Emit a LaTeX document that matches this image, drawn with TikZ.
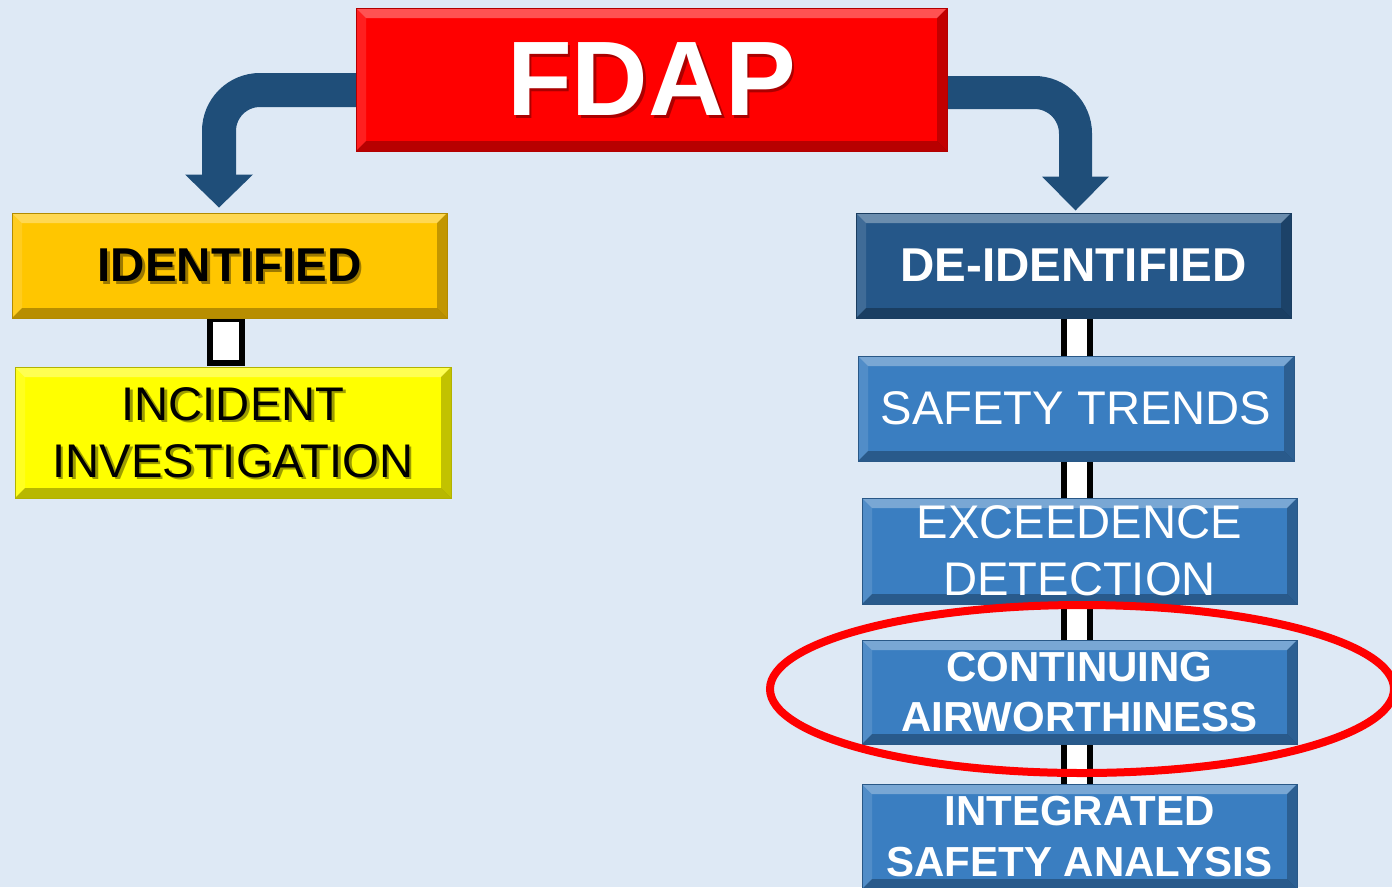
\documentclass[tikz,border=0pt]{standalone}
\usepackage{fontspec}
\setmainfont{Liberation Sans}
\usetikzlibrary{calc}

\definecolor{bg}{HTML}{DEE9F5}
\definecolor{arrowblue}{HTML}{1F4E79}
\definecolor{fdapred}{HTML}{FF0000}
\definecolor{gold}{HTML}{FFC600}
\definecolor{lemon}{HTML}{FFFF00}
\definecolor{navy}{HTML}{255789}
\definecolor{midblue}{HTML}{3A7EC1}
\definecolor{ringred}{HTML}{FF0000}

\pgfdeclarelayer{back}
\pgfsetlayers{back,main}

\tikzset{
  bevel/.style={path picture={
    \path (path picture bounding box.north west) coordinate (pnw)
          (path picture bounding box.north east) coordinate (pne)
          (path picture bounding box.south east) coordinate (pse)
          (path picture bounding box.south west) coordinate (psw);
    \fill[white,opacity=.32] (pnw) -- (pne) -- ([shift={(-#1,-#1)}]pne) -- ([shift={(#1,-#1)}]pnw) -- cycle;
    \fill[white,opacity=.12] (pnw) -- ([shift={(#1,-#1)}]pnw) -- ([shift={(#1,#1)}]psw) -- (psw) -- cycle;
    \fill[black,opacity=.28] (psw) -- ([shift={(#1,#1)}]psw) -- ([shift={(-#1,#1)}]pse) -- (pse) -- cycle;
    \fill[black,opacity=.24] (pne) -- (pse) -- ([shift={(-#1,#1)}]pse) -- ([shift={(-#1,-#1)}]pne) -- cycle;
  }},
  panel/.style={rectangle, inner sep=0pt, bevel=10pt, draw=#1!70!black, line width=1pt, fill=#1},
  label text/.style={inner sep=0pt, align=center},
  bent/.style={draw=arrowblue, line width=34pt, rounded corners=41pt},
  head/.style={fill=arrowblue},
  link/.style={draw=black, fill=white, line width=6pt},
  rlink/.style={draw=black, line width=6pt, double=white, double distance=20pt,
                shorten <=-3pt, shorten >=-3pt},
  ring/.style={draw=ringred, line width=8pt},
  bigbold/.style={font=\fontsize{106}{120}\selectfont\bfseries},
  headbold/.style={font=\fontsize{47.5}{56}\selectfont\bfseries},
  plain/.style={font=\fontsize{47.2}{57}\selectfont},
  subbold/.style={font=\fontsize{42}{50.5}\selectfont\bfseries},
}

% bevelled box; #6 holds its text layers
\newcommand\panel[6]{%
  \node[panel=#3, minimum width=#4, minimum height=#5] (#1) at (#2) {};
  #6}
\newcommand\shadowtext[4]{%
  \node[label text,#2,text=#3,opacity=.55] (#1-shadow) at ([shift={(2.5pt,-2.5pt)}]#1.center) {#4};}
\newcommand\boxtext[4]{%
  \node[label text,#2,text=#3] (#1-text) at (#1.center) {#4};}

\begin{document}
\begin{tikzpicture}[x=1pt,y=-1pt]
  \useasboundingbox (0,0) rectangle (1392,887);
  \begin{pgfonlayer}{back}
    \fill[bg] (0,0) rectangle (1392,887);
  \end{pgfonlayer}
  \coordinate (spine) at (1077,0);

  % boxes
  \panel{fdap}{651.5,79.5}{fdapred}{591pt}{143pt}{%
    \shadowtext{fdap}{bigbold}{fdapred!40!black}{FDAP}%
    \boxtext{fdap}{bigbold}{white}{FDAP}}
  \panel{ident}{229.5,265.5}{gold}{435pt}{105pt}{%
    \shadowtext{ident}{headbold}{gold!30!black}{IDENTIFIED}%
    \boxtext{ident}{headbold}{black}{IDENTIFIED}}
  \panel{incid}{233,432.5}{lemon}{436pt}{131pt}{%
    \shadowtext{incid}{plain}{lemon!30!black}{INCIDENT\\INVESTIGATION}%
    \boxtext{incid}{plain}{black}{INCIDENT\\INVESTIGATION}}
  \panel{deid}{1073.5,265.5}{navy}{435pt}{105pt}{%
    \boxtext{deid}{headbold}{white}{DE-IDENTIFIED}}
  \panel{trends}{1076,408.5}{midblue}{436pt}{105pt}{%
    \boxtext{trends}{plain}{white}{SAFETY TRENDS}}
  \panel{exceed}{1079.5,551}{midblue}{435pt}{106pt}{%
    \boxtext{exceed}{plain}{white}{EXCEEDENCE\\DETECTION}}
  \panel{contin}{1079.5,692}{midblue}{435pt}{104pt}{%
    \boxtext{contin}{subbold}{white}{CONTINUING\\AIRWORTHINESS}}
  \panel{integ}{1079.5,836.5}{midblue}{435pt}{105pt}{%
    \boxtext{integ}{subbold}{white}{INTEGRATED\\SAFETY ANALYSIS}}

  \begin{pgfonlayer}{back}
    % bent arrows from FDAP
    \draw[bent] ([xshift=20pt,yshift=-10.5pt]fdap.west) -| ([xshift=-10.5pt,yshift=37pt]ident.north);
    \fill[head] ([xshift=-44.5pt,yshift=38pt]ident.north) -- ([xshift=23.5pt,yshift=38pt]ident.north)
                -- ([xshift=-10.5pt,yshift=5pt]ident.north) -- cycle;
    \draw[bent, line width=33pt] ([xshift=-20pt,yshift=-13pt]fdap.east) -| ([xshift=2pt,yshift=35pt]deid.north);
    \fill[head] ([xshift=-31.5pt,yshift=36pt]deid.north) -- ([xshift=35.5pt,yshift=36pt]deid.north)
                -- ([xshift=2pt,yshift=2pt]deid.north) -- cycle;

    % connectors
    \draw[link] ([xshift=-19.5pt]ident.south) rectangle ($(ident.south |- incid.north)+(12.5,-4)$);
    \draw[rlink] (deid.south -| spine)   -- (trends.north -| spine);
    \draw[rlink] (trends.south -| spine) -- (exceed.north -| spine);
    \draw[rlink] (exceed.south -| spine) -- (contin.north -| spine);
    \draw[rlink] (contin.south -| spine) -- (integ.north -| spine);
  \end{pgfonlayer}

  % highlight ring
  \draw[ring] ($(contin.center)+(2.5,-3)$) ellipse [x radius=312pt, y radius=84pt];
\end{tikzpicture}
\end{document}
